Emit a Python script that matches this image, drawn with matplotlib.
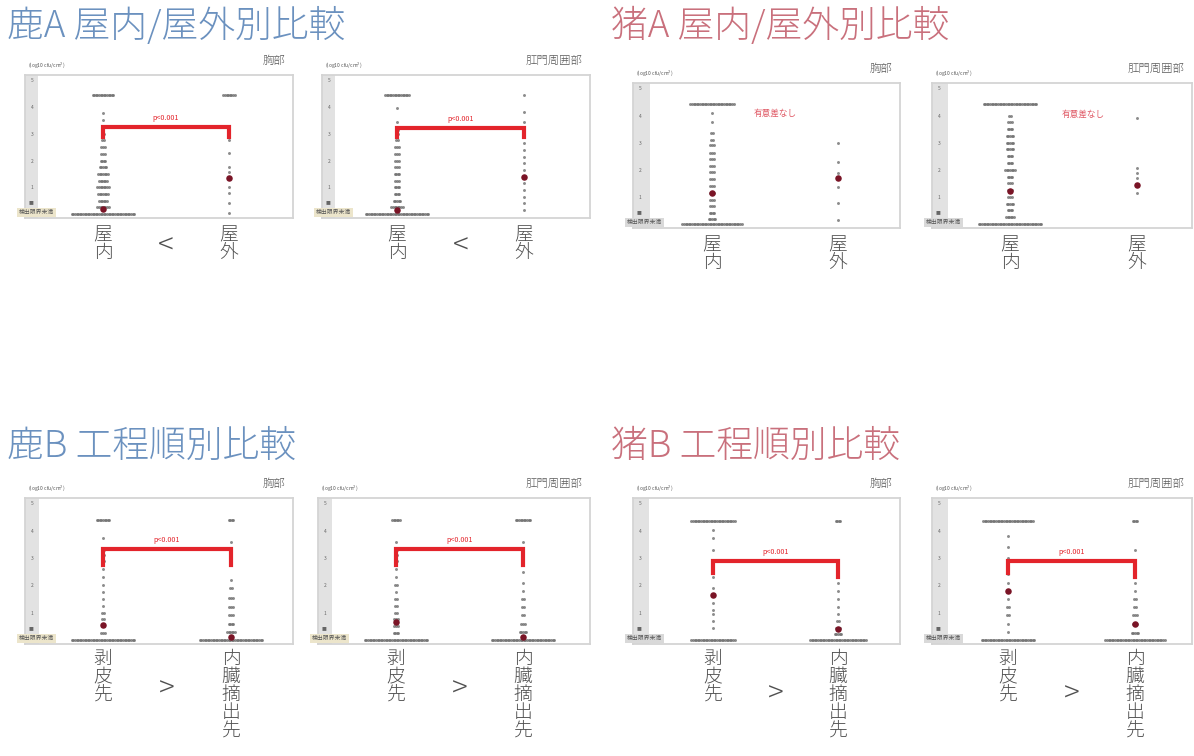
import matplotlib
matplotlib.use("Agg")
import matplotlib.pyplot as plt
import numpy as np

plt.rcParams['font.family'] = ['Noto Sans CJK JP', 'DejaVu Sans']

W, H = 1194, 756

# y axis: log10 cfu/cm2, row 0 = below detection limit
yticks = [1, 2, 3, 4, 5]
ytick_labels = ['1', '2', '3', '4', '5']

# ---- 鹿A 胸部 (屋内 / 屋外)
deerA_chest_in_lv = [0, 0.25, 0.5, 0.75, 1.0, 1.25, 1.5, 1.75, 2.0, 2.25, 2.5, 2.75, 3.0, 3.25, 3.5, 3.77, 4.44]
deerA_chest_in_n = [40, 8, 6, 7, 8, 6, 7, 5, 4, 3, 3, 2, 2, 2, 1, 1, 14]
deerA_chest_out_lv = [0.03, 0.4, 0.78, 1.0, 1.56, 1.75, 2.27, 2.76, 3.0, 4.44]
deerA_chest_out_n = [1, 1, 1, 1, 1, 1, 1, 1, 1, 8]
deerA_chest_mean = [0.2, 1.34]

# ---- 鹿A 肛門周囲部
deerA_anal_in_lv = [0, 0.25, 0.5, 0.75, 1.0, 1.25, 1.5, 1.75, 2.0, 2.25, 2.5, 2.75, 3.0, 3.13, 3.43, 3.95, 4.44]
deerA_anal_in_n = [40, 8, 5, 4, 4, 3, 4, 3, 3, 3, 3, 2, 2, 2, 1, 1, 16]
deerA_anal_out_lv = [0.15, 0.4, 0.65, 0.9, 1.15, 1.4, 1.65, 1.9, 2.15, 2.4, 2.65, 2.9, 3.13, 3.43, 3.8, 4.44]
deerA_anal_out_n = [1, 1, 1, 1, 1, 2, 1, 1, 1, 1, 1, 1, 1, 1, 1, 1]
deerA_anal_mean = [0.15, 1.37]

# ---- 猪A 胸部
boarA_chest_in_lv = [0, 0.2, 0.4, 0.65, 0.9, 1.15, 1.4, 1.65, 1.9, 2.15, 2.4, 2.6, 2.9, 3.1, 3.35, 3.75, 4.08, 4.41]
boarA_chest_in_n = [38, 5, 4, 3, 3, 3, 3, 3, 3, 3, 3, 3, 3, 2, 2, 1, 1, 28]
boarA_chest_out_lv = [0.16, 0.78, 1.37, 1.88, 2.28, 2.98]
boarA_chest_out_n = [1, 1, 1, 1, 1, 1]
boarA_chest_mean = [1.15, 1.7]

# ---- 猪A 肛門周囲部
boarA_anal_in_lv = [0, 0.25, 0.5, 0.75, 1.0, 1.25, 1.5, 1.75, 2.0, 2.25, 2.5, 2.75, 3.0, 3.25, 3.5, 3.75, 4.0, 4.41]
boarA_anal_in_n = [40, 6, 4, 5, 3, 3, 3, 4, 7, 4, 4, 5, 5, 5, 4, 3, 2, 34]
boarA_anal_out_lv = [1.15, 1.7, 1.88, 2.06, 3.9]
boarA_anal_out_n = [1, 1, 1, 1, 1]
boarA_anal_mean = [1.22, 1.44]

# ---- 鹿B 胸部 (剥皮先 / 内臓摘出先)
deerB_chest_pre_lv = [0, 0.25, 0.5, 0.75, 1.0, 1.25, 1.5, 1.75, 2.0, 2.3, 2.6, 2.9, 3.1, 3.3, 3.73, 4.38]
deerB_chest_pre_n = [40, 3, 2, 2, 2, 1, 1, 1, 1, 1, 1, 2, 2, 2, 1, 9]
deerB_chest_post_lv = [0, 0.3, 0.6, 0.9, 1.2, 1.55, 1.9, 2.2, 2.8, 3.0, 3.3, 3.6, 4.38]
deerB_chest_post_n = [40, 6, 4, 3, 3, 3, 2, 1, 1, 1, 1, 1, 4]
deerB_chest_mean = [0.53, 0.1]

# ---- 鹿B 肛門周囲部
deerB_anal_pre_lv = [0, 0.25, 0.5, 0.75, 1.0, 1.25, 1.5, 1.75, 2.0, 2.3, 2.6, 2.9, 3.1, 3.3, 3.6, 4.38]
deerB_anal_pre_n = [40, 4, 3, 3, 2, 2, 2, 1, 2, 1, 1, 2, 2, 2, 1, 6]
deerB_anal_post_lv = [0, 0.3, 0.6, 0.9, 1.2, 1.5, 1.8, 2.1, 2.5, 2.9, 3.2, 3.6, 4.38]
deerB_anal_post_n = [40, 5, 3, 2, 2, 2, 1, 1, 1, 1, 1, 1, 10]
deerB_anal_mean = [0.67, 0.1]

# ---- 猪B 胸部
boarB_chest_pre_lv = [0, 0.44, 0.7, 0.95, 1.1, 1.35, 1.63, 1.9, 2.3, 2.6, 2.85, 3.3, 3.74, 4.04, 4.37]
boarB_chest_pre_n = [28, 1, 1, 1, 1, 1, 2, 1, 1, 1, 1, 1, 1, 1, 28]
boarB_chest_post_lv = [0, 0.2, 0.44, 0.7, 0.95, 1.2, 1.5, 1.8, 2.1, 2.4, 2.85, 4.37]
boarB_chest_post_n = [36, 5, 3, 2, 1, 1, 1, 1, 1, 1, 1, 4]
boarB_chest_mean = [1.63, 0.4]

# ---- 猪B 肛門周囲部
boarB_anal_pre_lv = [0, 0.3, 0.6, 0.9, 1.2, 1.5, 1.8, 2.1, 2.4, 2.7, 3.0, 3.4, 3.8, 4.37]
boarB_anal_pre_n = [34, 1, 1, 2, 2, 1, 2, 1, 1, 1, 1, 1, 1, 32]
boarB_anal_post_lv = [0, 0.25, 0.6, 0.9, 1.2, 1.5, 1.8, 2.1, 2.5, 2.9, 3.3, 4.37]
boarB_anal_post_n = [38, 5, 3, 3, 2, 2, 1, 1, 1, 1, 1, 4]
boarB_anal_mean = [1.8, 0.6]

sig_label = 'p<0.001'
nosig_label = '有意差なし'
region_labels = ['胸部', '肛門周囲部']

DOT = '#6f6f6f'
MEAN = '#7a1426'
RED = '#e3242b'
FRAME = '#d4d4d4'
TXT = '#505050'

fig = plt.figure(figsize=(W / 100, H / 100), dpi=100)


def px_axes(x0, y0, x1, y1):
    return fig.add_axes([x0 / W, 1 - y1 / H, (x1 - x0) / W, (y1 - y0) / H])


def swarm(ax, xc, levels, counts, step):
    xs, ys = [], []
    for lv, n in zip(levels, counts):
        off = (np.arange(n) - (n - 1) / 2) * step
        xs.extend(xc + off)
        ys.extend([lv] * n)
    ax.scatter(xs, ys, s=4.5, color=DOT, lw=0, alpha=0.8, zorder=3)


def panel(rect, g, header, groups, means, strip_px, box_color,
          bracket=None, note=None):
    x0, y0, x1, y1 = rect
    ax = px_axes(x0, y0, x1, y1)
    span = g[1] - g[0]
    lo, hi = (x0 - g[0]) / span, (x1 - g[0]) / span
    ax.set_xlim(lo, hi)
    ax.set_ylim(-0.15, 5.2)
    ax.axvspan(lo, lo + strip_px / span, color='#e2e2e2', lw=0, zorder=0)
    for s in ax.spines.values():
        s.set_color(FRAME)
        s.set_linewidth(1.3)
    ax.set_xticks([])
    ax.set_yticks(yticks + [0.45])
    ax.set_yticklabels(ytick_labels + ['■'])
    ax.tick_params(axis='y', length=0, pad=-6, labelsize=3.5, labelcolor='#666666')

    step = 1.6 / span
    for i, (lv, n) in enumerate(groups):
        swarm(ax, i, lv, n, step)
    ax.scatter([0, 1], means, s=22, color=MEAN, lw=0, zorder=5)

    # below detection limit tag
    ax.text(lo - 6 / span, 0.05, '検出限界未満', fontsize=4.2, color='#555555',
            ha='left', va='center', clip_on=False, zorder=6,
            bbox=dict(boxstyle='square,pad=0.35', fc=box_color, ec='none'))

    if bracket is not None:
        yb, yl_left, yl_right = bracket
        ax.plot([0, 0, 1, 1], [yl_left, yb, yb, yl_right], color=RED, lw=3,
                solid_joinstyle='miter', zorder=4)
        ax.text(0.5, yb + 0.2, sig_label, color=RED, fontsize=5.2,
                ha='center', va='bottom')
    if note is not None:
        nx, ny = note
        ax.text(nx, ny, nosig_label, color='#e05a66', fontsize=6.2,
                ha='center', va='center')

    fig.text((x0 + 3) / W, 1 - (y0 - 10) / H, '(log10 cfu/cm$^2$)', fontsize=3.6,
             color='#555555', ha='left', va='center')
    fig.text((x1 - 8) / W, 1 - (y0 - 14) / H, header, fontsize=8.2,
             color='#5a5a5a', ha='right', va='center', fontweight='light')
    return ax


def cat_labels(ax, labels, sign, top_px, sign_px):
    for i, lab in enumerate(labels):
        ax.annotate('\n'.join(lab), xy=(i, 0), xycoords=('data', 'axes fraction'),
                    xytext=(0, -top_px * 0.72), textcoords='offset points',
                    ha='center', va='top', fontsize=13.5, linespacing=1.0,
                    color=TXT, fontweight='light')
    if sign:
        ax.annotate(sign, xy=(0.5, 0), xycoords=('data', 'axes fraction'),
                    xytext=(0, -sign_px * 0.72), textcoords='offset points',
                    ha='center', va='center', fontsize=21, color=TXT,
                    fontweight='light')


deer_color = '#6b91bf'
boar_color = '#c9707c'
title_kw = dict(fontsize=26.5, ha='left', va='center', fontweight='light')
fig.text(7 / W, 1 - 27 / H, '鹿A 屋内/屋外別比較', color=deer_color, **title_kw)
fig.text(611 / W, 1 - 27 / H, '猪A 屋内/屋外別比較', color=boar_color, **title_kw)
fig.text(7 / W, 1 - 447 / H, '鹿B 工程順別比較', color=deer_color, **title_kw)
fig.text(611 / W, 1 - 447 / H, '猪B 工程順別比較', color=boar_color, **title_kw)

tan = '#ece5cb'
grey = '#d9d9d9'
place = ['屋内', '屋外']
step_lab = ['剥皮先', '内臓摘出先']

ax = panel((25, 75, 293, 218), (103, 229), region_labels[0],
           [(deerA_chest_in_lv, deerA_chest_in_n), (deerA_chest_out_lv, deerA_chest_out_n)],
           deerA_chest_mean, 13, tan, bracket=(3.24, 2.87, 2.87))
cat_labels(ax, place, '<', 8, 28)
ax = panel((322, 75, 590, 218), (397, 524), region_labels[1],
           [(deerA_anal_in_lv, deerA_anal_in_n), (deerA_anal_out_lv, deerA_anal_out_n)],
           deerA_anal_mean, 13, tan, bracket=(3.2, 2.87, 2.87))
cat_labels(ax, place, '<', 8, 28)

ax = panel((633, 83, 900, 228), (712, 838), region_labels[0],
           [(boarA_chest_in_lv, boarA_chest_in_n), (boarA_chest_out_lv, boarA_chest_out_n)],
           boarA_chest_mean, 17, grey, note=(0.5, 4.1))
cat_labels(ax, place, None, 8, 30)
ax = panel((932, 83, 1192, 228), (1010, 1137), region_labels[1],
           [(boarA_anal_in_lv, boarA_anal_in_n), (boarA_anal_out_lv, boarA_anal_out_n)],
           boarA_anal_mean, 16, grey, note=(0.58, 4.05))
cat_labels(ax, place, None, 8, 30)

ax = panel((25, 498, 293, 644), (103, 231), region_labels[0],
           [(deerB_chest_pre_lv, deerB_chest_pre_n), (deerB_chest_post_lv, deerB_chest_post_n)],
           deerB_chest_mean, 14, tan, bracket=(3.33, 2.75, 2.75))
cat_labels(ax, step_lab, '>', 6, 45)
ax = panel((318, 498, 590, 644), (396, 523), region_labels[1],
           [(deerB_anal_pre_lv, deerB_anal_pre_n), (deerB_anal_post_lv, deerB_anal_post_n)],
           deerB_anal_mean, 14, tan, bracket=(3.33, 2.75, 2.75))
cat_labels(ax, step_lab, '>', 6, 45)

ax = panel((633, 498, 900, 644), (713, 838), region_labels[0],
           [(boarB_chest_pre_lv, boarB_chest_pre_n), (boarB_chest_post_lv, boarB_chest_post_n)],
           boarB_chest_mean, 16, grey, bracket=(2.89, 2.45, 2.3))
cat_labels(ax, step_lab, '>', 6, 50)
ax = panel((932, 498, 1192, 644), (1008, 1135), region_labels[1],
           [(boarB_anal_pre_lv, boarB_anal_pre_n), (boarB_anal_post_lv, boarB_anal_post_n)],
           boarB_anal_mean, 16, grey, bracket=(2.89, 2.45, 2.3))
cat_labels(ax, step_lab, '>', 6, 50)

fig.savefig('out.png', dpi=100, facecolor='white')
